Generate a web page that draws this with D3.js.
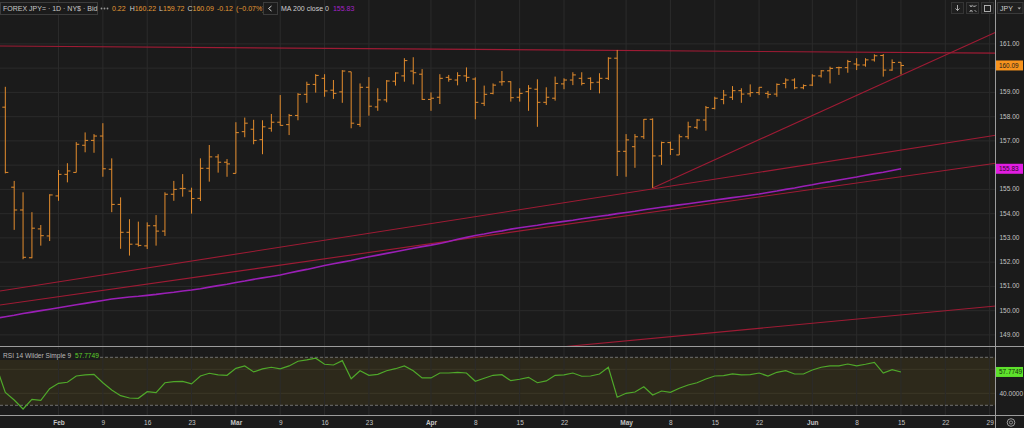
<!DOCTYPE html>
<html><head><meta charset="utf-8">
<script src="https://cdn.jsdelivr.net/npm/d3@7"></script>
<style>
html,body{margin:0;padding:0;background:#1b1b1b;overflow:hidden}
svg{display:block;font-family:"Liberation Sans",Arial,sans-serif}
</style></head><body>
<svg id="chart" width="1024" height="428"></svg>
<script>
// ---- data ----
const opens = [158.37,155.07,154.13,152.16,153.35,153.06,154.71,155.60,155.68,156.80,
157.00,157.18,155.81,154.36,153.21,152.72,152.65,153.48,153.26,154.78,
155.02,154.91,154.61,155.85,156.32,156.10,155.64,157.36,157.46,157.03,
157.50,157.75,157.65,158.03,158.90,159.31,159.56,159.07,159.00,159.83,
157.66,159.19,158.38,158.67,159.44,159.66,159.86,159.73,158.69,158.78,
159.60,159.49,159.66,159.53,158.53,158.94,159.41,159.42,158.78,159.01,
159.11,158.57,158.74,159.33,159.49,159.56,159.56,159.40,159.56,160.39,
156.55,156.74,157.15,157.87,156.36,156.91,156.40,157.15,157.54,157.84,
158.32,158.69,158.78,159.05,158.92,158.97,158.94,158.91,159.35,159.49,
159.17,159.28,159.66,159.87,160.00,160.00,160.15,160.11,160.32,160.50,
159.90,160.22];
const highs = [159.21,155.33,154.86,154.04,153.51,154.78,155.78,156.06,156.93,157.33,
157.26,157.71,156.26,154.65,153.75,153.65,153.62,153.92,154.86,155.33,
155.61,155.05,156.26,156.81,156.43,156.23,157.75,157.94,157.85,157.83,
158.09,158.87,158.09,158.95,159.42,159.73,159.73,159.49,159.90,159.83,
159.35,159.61,159.15,159.49,159.81,160.39,160.43,159.94,158.98,159.73,
159.70,159.81,160.01,159.60,159.26,159.35,159.86,159.44,159.15,159.28,
159.52,159.19,159.63,159.56,159.81,159.81,159.60,159.77,160.43,160.73,
157.26,157.26,157.88,157.91,156.95,156.95,157.25,157.77,157.88,158.42,
158.80,159.08,159.24,159.15,159.31,159.19,159.04,159.35,159.56,159.56,
159.31,159.73,159.90,160.04,160.04,160.32,160.39,160.39,160.55,160.56,
160.34,160.22];
const lows = [155.64,153.31,152.10,152.14,152.66,152.85,154.51,155.27,155.68,156.51,
156.49,155.50,154.04,152.53,152.25,152.62,152.52,152.66,153.06,154.51,
154.68,153.98,154.50,155.30,155.67,155.50,155.64,157.13,156.84,156.43,
157.36,157.61,157.22,157.83,158.55,158.97,158.80,158.71,158.55,157.50,
157.56,158.02,158.22,158.57,159.26,159.42,159.31,158.67,158.22,158.50,
159.42,159.27,159.42,157.87,158.42,158.90,159.26,158.60,158.60,158.22,
157.56,158.46,158.64,159.11,159.28,159.27,159.08,158.94,159.49,155.53,
155.50,155.87,157.06,155.04,155.99,156.40,156.40,157.05,157.46,157.40,
158.28,158.49,158.67,158.55,158.80,158.87,158.74,158.80,159.15,159.11,
159.11,159.24,159.59,159.35,159.70,159.79,159.90,160.04,160.25,159.63,
159.87,159.72];
const closes = [155.68,154.13,152.18,153.38,153.07,154.75,155.60,155.74,156.84,157.00,
157.18,155.83,154.36,153.21,152.72,152.67,153.48,153.26,154.78,154.98,
155.02,154.60,155.85,156.32,156.10,156.03,157.32,157.71,157.00,157.56,
157.75,157.62,158.03,158.90,159.31,159.68,159.04,158.94,159.86,157.71,
159.19,158.41,158.67,159.45,159.78,160.29,159.79,158.69,158.74,159.56,
159.52,159.67,159.60,158.57,158.90,159.28,159.42,158.76,158.94,159.15,
158.57,158.78,159.35,159.49,159.70,159.35,159.38,159.56,160.39,156.55,
157.02,157.15,157.87,156.36,156.91,156.63,157.15,157.56,157.84,158.35,
158.74,158.87,159.05,158.91,158.97,159.19,158.90,159.31,159.49,159.17,
159.26,159.66,159.87,159.97,160.00,160.25,160.11,160.32,160.49,159.90,
160.21,160.09];

// indicator series start one session before the first visible bar
const indicatorStart = -1;
const ma200 = [149.67,
149.73,149.79,149.86,149.92,149.98,150.04,150.10,150.16,150.22,150.28,150.34,150.40,150.46,
150.50,150.54,150.57,150.61,150.65,150.70,150.74,150.79,150.83,150.88,150.95,151.01,151.07,
151.14,151.20,151.27,151.33,151.39,151.45,151.53,151.61,151.68,151.76,151.84,151.91,151.98,
152.05,152.13,152.20,152.27,152.34,152.41,152.48,152.55,152.62,152.68,152.75,152.83,152.92,
153.00,153.08,153.14,153.21,153.27,153.34,153.40,153.45,153.50,153.56,153.61,153.66,153.71,
153.77,153.82,153.87,153.92,153.98,154.03,154.08,154.14,154.19,154.24,154.29,154.34,154.39,
154.44,154.49,154.54,154.59,154.64,154.69,154.74,154.79,154.85,154.91,154.98,155.04,155.11,
155.17,155.24,155.30,155.37,155.43,155.49,155.56,155.63,155.69,155.76,155.83];
const rsi = [62,
40.8,34.4,26.9,35,34.2,43.8,48.3,49.2,54.4,55.3,55.8,
48.8,42.8,38.0,36.1,35.8,41.3,40.5,48.8,49.7,50,47.8,
54.4,56.7,55.3,55,60.8,62.8,57.8,60.3,61.7,60.3,62.8,
66.7,67.8,69.2,64.2,63.6,67.2,52.2,58.8,55,55.8,58.8,
60.5,62.8,58.8,52.8,52.8,56.9,56.9,57.5,56.9,50,52.5,
55,55.5,50.5,
51.7,53.3,48.8,50.3,55,55.3,56.9,54.2,54.4,56.1,61.7,
36.7,40,41.1,45.5,38.6,41.9,40.8,44.2,46.9,48.8,51.9,
54.4,54.7,56.1,55.3,55.6,56.9,54.4,57.5,58.8,56.1,56.1,
59.4,61.7,62.8,62.8,64.4,62.8,64.2,65.8,56.9,59.7,57.7749];

// drawn trend lines: [session index, price]
const resistanceLine = [[-0.6,160.89],[111.68,160.60]];
const risingLine = [[73,155.04],[111.68,161.46]];
const channelUpper = [[-0.6,150.79],[111.68,157.21]];
const channelLower = [[-0.6,150.21],[111.68,156.06]];
const supportLine = [[-0.6,146.3],[111.68,150.17]];

const tickIdx = [6,11,16,21,26,31,36,41,48,53,58,63,70,75,80,85,91,96,101,106,111];
const tickLabels = ["Feb","9","16","23","Mar","9","16","23","Apr","8","15","22","May","8","15","22","Jun","8","15","22","29"];
const priceTicks = [149,150,151,152,153,154,155,156,157,158,159,160,161];
const rsiTicks = [40,60];
const rsiLevels = [30,70];

// ---- layout ----
const svg = d3.select("#chart");
const axisX = 995.5;
const priceBottom = 346.5, rsiTop = 347, rsiBottom = 415.5;
const x = d3.scaleLinear().domain([-0.6,111.68]).range([0,995.7]);
const y = d3.scaleLinear().domain([149,161]).range([334.4,43.4]);
const yR = d3.scaleLinear().domain([30,70]).range([405.3,357.3]);

const BG="#1b1b1b", GRID="#2b2b2b", AXIS="#9c9c9c", TXT="#c4c4c4";
const BAR="#e38c2d", TREND="#9e1b34", MA="#9a1fb6", RSI="#4fa82a";

const last = closes.length-1;
const maLast = ma200[ma200.length-1], rsiLast = rsi[rsi.length-1];

svg.append("rect").attr("width",1024).attr("height",428).attr("fill",BG);

const defs = svg.append("defs");
defs.append("clipPath").attr("id","cp").append("rect").attr("x",0).attr("y",0).attr("width",axisX).attr("height",priceBottom);
defs.append("clipPath").attr("id","cr").append("rect").attr("x",0).attr("y",rsiTop).attr("width",axisX).attr("height",rsiBottom-rsiTop);

// RSI band
svg.append("rect").attr("x",0).attr("width",axisX)
  .attr("y",yR(70)).attr("height",yR(30)-yR(70)).attr("fill","#2d291b");

// grids
const g = svg.append("g");
g.selectAll("line.hg").data(priceTicks).join("line")
  .attr("x1",0).attr("x2",axisX).attr("y1",d=>y(d)+0.5).attr("y2",d=>y(d)+0.5)
  .attr("stroke",GRID).attr("stroke-width",1);
g.selectAll("line.rg").data(rsiTicks).join("line")
  .attr("x1",0).attr("x2",axisX).attr("y1",d=>yR(d)).attr("y2",d=>yR(d))
  .attr("stroke","#3b3727").attr("stroke-width",1);
g.selectAll("line.vg").data(tickIdx).join("line")
  .attr("x1",d=>x(d)).attr("x2",d=>x(d)).attr("y1",0).attr("y2",rsiBottom)
  .attr("stroke",GRID).attr("stroke-width",1);

// RSI dashed levels
svg.selectAll("line.lvl").data(rsiLevels).join("line")
  .attr("x1",0).attr("x2",axisX).attr("y1",d=>yR(d)).attr("y2",d=>yR(d))
  .attr("stroke","#707070").attr("stroke-width",1).attr("stroke-dasharray","3,2");

// price pane content
const pp = svg.append("g").attr("clip-path","url(#cp)");
const lineGen = d3.line().x(d=>x(d[0])).y(d=>y(d[1]));
[resistanceLine,risingLine,channelUpper,channelLower,supportLine].forEach(l=>{
  pp.append("path").attr("d",lineGen(l)).attr("fill","none").attr("stroke",TREND).attr("stroke-width",1.1);
});
pp.append("path")
  .attr("d",d3.line().x((d,i)=>x(i+indicatorStart)).y(d=>y(d))(ma200))
  .attr("fill","none").attr("stroke",MA).attr("stroke-width",1.6);

const bars = pp.append("g").attr("stroke",BAR).attr("stroke-width",1).attr("fill","none");
opens.forEach((o,i)=>{
  const cx = x(i);
  bars.append("path").attr("d",
    `M${cx},${y(highs[i])}V${y(lows[i])}M${cx-3},${y(o)}H${cx}M${cx},${y(closes[i])}H${cx+3}`);
});

// RSI pane content
const rp = svg.append("g").attr("clip-path","url(#cr)");
rp.append("path")
  .attr("d",d3.line().x((d,i)=>x(i+indicatorStart)).y(d=>yR(d))(rsi))
  .attr("fill","none").attr("stroke",RSI).attr("stroke-width",1.2);

// RSI legend
svg.append("rect").attr("x",0).attr("y",349).attr("width",100).attr("height",11).attr("fill",BG);
const leg = svg.append("text").attr("x",3).attr("y",357.5).attr("font-size",6.6);
leg.append("tspan").attr("fill","#b8b8b8").text("RSI 14 Wilder Simple 9 ");
leg.append("tspan").attr("fill","#5cd12a").attr("dx",2).text(d3.format(".4f")(rsiLast));

// pane separators and axis line
svg.append("line").attr("x1",0).attr("x2",1024).attr("y1",priceBottom).attr("y2",priceBottom).attr("stroke",AXIS);
svg.append("line").attr("x1",0).attr("x2",1024).attr("y1",rsiBottom).attr("y2",rsiBottom).attr("stroke",AXIS);
svg.append("line").attr("x1",axisX).attr("x2",axisX).attr("y1",0).attr("y2",428).attr("stroke",AXIS);

// axes (tick labels hidden behind the value boxes are left out)
const styleAxis = sel => { sel.select(".domain").remove(); sel.selectAll("text").attr("fill",TXT).attr("font-family","Liberation Sans, Arial, sans-serif"); };
const freeP = t => Math.abs(y(t)-y(closes[last]))>9 && Math.abs(y(t)-y(maLast))>9;
const freeR = t => Math.abs(yR(t)-yR(rsiLast))>9;
svg.append("g").attr("transform",`translate(${axisX},0)`)
  .call(d3.axisRight(y).tickValues(priceTicks.filter(freeP)).tickSize(0).tickPadding(4).tickFormat(d3.format(".2f")))
  .call(styleAxis).selectAll("text").attr("font-size",6.5);
svg.append("g").attr("transform",`translate(${axisX},0)`)
  .call(d3.axisRight(yR).tickValues(rsiTicks.filter(freeR)).tickSize(0).tickPadding(4).tickFormat(d3.format(".4f")))
  .call(styleAxis).selectAll("text").attr("font-size",6.5);
const xa = svg.append("g").attr("transform",`translate(0,${rsiBottom})`)
  .call(d3.axisBottom(x).tickValues(tickIdx).tickSize(0).tickPadding(5).tickFormat((d,i)=>tickLabels[i]))
  .call(styleAxis);
xa.selectAll("text").attr("font-size",6.5)
  .attr("font-weight",(d,i)=>isNaN(+tickLabels[i])?"bold":"normal");

// value labels on axis
function valueLabel(yy, fill, txt, tfill){
  svg.append("rect").attr("x",axisX+0.5).attr("y",yy-5).attr("width",27).attr("height",10).attr("fill",fill);
  svg.append("text").attr("x",axisX+3.5).attr("y",yy+2.3).attr("font-size",6.4).attr("fill",tfill).text(txt);
}
valueLabel(y(closes[last]),"#f7931d",d3.format(".2f")(closes[last]),"#1a1a1a");
valueLabel(y(maLast),"#e21de2",d3.format(".2f")(maLast),"#2a0a2a");
valueLabel(yR(rsiLast),"#5ee22c",d3.format(".4f")(rsiLast),"#12300a");

// header
svg.append("rect").attr("x",0.5).attr("y",2.5).attr("width",97).attr("height",12).attr("fill",BG).attr("stroke","#3c3c3c");
svg.append("text").attr("x",3).attr("y",11.3).attr("font-size",7).attr("fill","#c8c8c8").text("FOREX JPY= · 1D · NY$ · Bid");
[101.5,104.5,107.5].forEach(cx=>svg.append("circle").attr("cx",cx).attr("cy",8.5).attr("r",0.9).attr("fill","#9a9a9a"));
const chg = closes[last]-closes[last-1];
const hdr = svg.append("text").attr("x",112).attr("y",11.3).attr("font-size",7);
const OR="#e39a35", LB="#cfcfcf";
hdr.append("tspan").attr("fill",OR).text(d3.format(".2f")(opens[last]).slice(-4));
hdr.append("tspan").attr("fill",LB).attr("dx",4).text("H");
hdr.append("tspan").attr("fill",OR).text(d3.format(".2f")(highs[last]));
hdr.append("tspan").attr("fill",LB).attr("dx",3).text("L");
hdr.append("tspan").attr("fill",OR).text(d3.format(".2f")(lows[last]));
hdr.append("tspan").attr("fill",LB).attr("dx",3).text("C");
hdr.append("tspan").attr("fill",OR).text(d3.format(".2f")(closes[last]));
hdr.append("tspan").attr("fill",OR).attr("dx",3).text(d3.format(".2f")(chg).replace("−","-"));
hdr.append("tspan").attr("fill",OR).attr("dx",3).text("(" + d3.format(".2f")(chg/closes[last-1]*100) + "%)");
svg.append("rect").attr("x",263.5).attr("y",2.5).attr("width",14).attr("height",12).attr("fill",BG).attr("stroke","#3c3c3c");
svg.append("path").attr("d","M271.5,6 L268.5,8.5 L271.5,11").attr("fill","none").attr("stroke","#d0d0d0").attr("stroke-width",1);
const mah = svg.append("text").attr("x",281).attr("y",11.3).attr("font-size",7);
mah.append("tspan").attr("fill","#cfcfcf").text("MA 200 close 0");
mah.append("tspan").attr("fill","#a322c6").attr("dx",4).text(d3.format(".2f")(maLast));

// top-right buttons
[951,966,981].forEach(bx=>svg.append("rect").attr("x",bx+0.5).attr("y",2.5).attr("width",12).attr("height",11).attr("fill","#1f1f1f").attr("stroke","#353535"));
svg.append("path").attr("d","M957.5,5V10.5M955.5,8.5L957.5,10.5L959.5,8.5").attr("fill","none").attr("stroke","#bbb").attr("stroke-width",0.9);
svg.append("path").attr("d","M969.5,5L971.5,7M976.5,5L974.5,7M969.5,12L971.5,10M976.5,12L974.5,10M970,6.2H972.2V4.8M975,6.2H973M970,10.8H972.2V12.2").attr("fill","none").attr("stroke","#bbb").attr("stroke-width",0.8);
svg.append("rect").attr("x",984.5).attr("y",5.5).attr("width",6).attr("height",6).attr("fill","none").attr("stroke","#bbb").attr("stroke-width",0.9);
svg.append("rect").attr("x",997.5).attr("y",2.5).attr("width",25.5).attr("height",11).attr("fill","#1f1f1f").attr("stroke","#3a3a3a");
svg.append("text").attr("x",1000).attr("y",10.5).attr("font-size",7).attr("fill","#d0d0d0").text("JPY");
svg.append("path").attr("d","M1017.5,7.5H1021L1019.25,9.5Z").attr("fill","#aaa");

// bottom-right icon
svg.append("circle").attr("cx",1011).attr("cy",422.5).attr("r",3.8).attr("fill","none").attr("stroke","#aaa").attr("stroke-width",0.9);
svg.append("circle").attr("cx",1011).attr("cy",422.5).attr("r",1.6).attr("fill","none").attr("stroke","#aaa").attr("stroke-width",0.8);
</script>
</body></html>
